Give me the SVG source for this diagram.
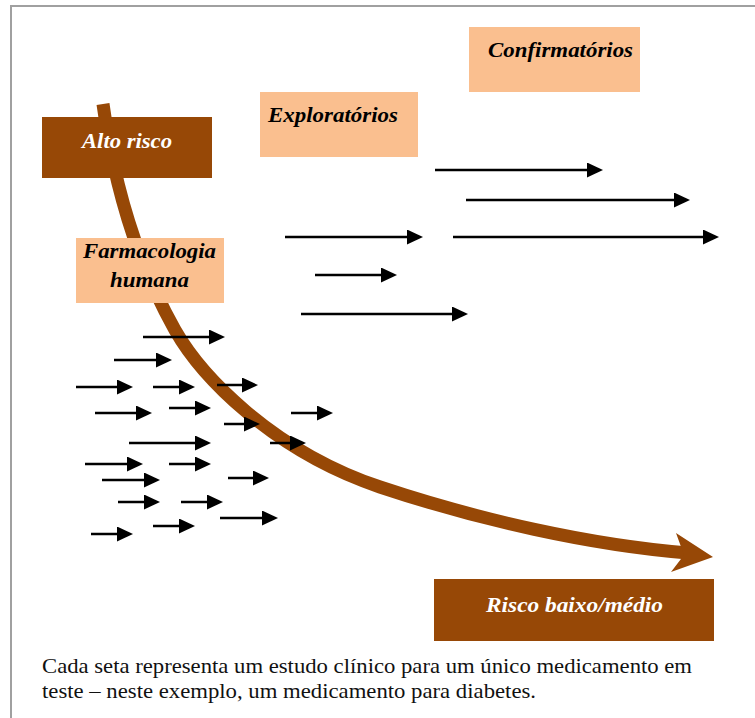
<svg xmlns="http://www.w3.org/2000/svg" width="755" height="718" viewBox="0 0 755 718">
  <style>
    .frame { fill: none; stroke: #A0A0A0; stroke-width: 2; }
    .dark { fill: #974806; }
    .light { fill: #FABF8F; }
    .lbl { font-family: "Liberation Serif", "Times New Roman", serif; font-weight: bold; font-style: italic; font-size: 20px; }
    .lbl-w { fill: #FFFFFF; }
    .lbl-b { fill: #000000; }
    .cap { font-family: "Liberation Serif", "Times New Roman", serif; font-size: 21px; fill: #111111; }
    .study { stroke: #000000; stroke-width: 2.5; fill: none; marker-end: url(#ah); }
    .risk { fill: none; stroke: #974806; stroke-width: 13; }
  </style>
  <defs>
    <marker id="ah" markerUnits="userSpaceOnUse" viewBox="0 0 16 15" markerWidth="16" markerHeight="15" refX="8" refY="7.5" orient="auto">
      <path d="M0,0 L16,7.5 L0,15 Z" fill="#000000"/>
    </marker>
  </defs>
  <rect width="755" height="718" fill="#FFFFFF"/>
  <path class="frame" d="M11,720 L11,6 L757,6"/>

  <g id="connectors">
    <g id="risk-curve">
      <path class="risk" d="M103,104 C112,170 130,250 175,330 C200,374 270,450 380,487 C479,520 590,545 688,553"/>
      <polygon class="dark" points="676,533 713,557 671,572 684,555"/>
    </g>
    <g id="studies">
      <line class="study" x1="435" y1="170" x2="595" y2="170"/>
      <line class="study" x1="466" y1="200" x2="682" y2="200"/>
      <line class="study" x1="285" y1="237" x2="415" y2="237"/>
      <line class="study" x1="453" y1="237" x2="711" y2="237"/>
      <line class="study" x1="315" y1="275" x2="389" y2="275"/>
      <line class="study" x1="301" y1="314" x2="460" y2="314"/>
      <line class="study" x1="143" y1="337" x2="217" y2="337"/>
      <line class="study" x1="114" y1="360" x2="164" y2="360"/>
      <line class="study" x1="76" y1="387" x2="125" y2="387"/>
      <line class="study" x1="153" y1="387" x2="187" y2="387"/>
      <line class="study" x1="217" y1="385" x2="250" y2="385"/>
      <line class="study" x1="95" y1="413" x2="144" y2="413"/>
      <line class="study" x1="169" y1="408" x2="203" y2="408"/>
      <line class="study" x1="291" y1="413" x2="325" y2="413"/>
      <line class="study" x1="224" y1="424" x2="252" y2="424"/>
      <line class="study" x1="129" y1="443" x2="203" y2="443"/>
      <line class="study" x1="270" y1="443" x2="298" y2="443"/>
      <line class="study" x1="85" y1="464" x2="135" y2="464"/>
      <line class="study" x1="169" y1="464" x2="203" y2="464"/>
      <line class="study" x1="102" y1="480" x2="152" y2="480"/>
      <line class="study" x1="228" y1="478" x2="261" y2="478"/>
      <line class="study" x1="118" y1="502" x2="152" y2="502"/>
      <line class="study" x1="181" y1="502" x2="215" y2="502"/>
      <line class="study" x1="220" y1="518" x2="270" y2="518"/>
      <line class="study" x1="153" y1="526" x2="187" y2="526"/>
      <line class="study" x1="91" y1="534" x2="125" y2="534"/>
    </g>
  </g>

  <g id="alto-risco">
    <rect class="dark" x="42" y="117" width="170" height="61"/>
    <text class="lbl lbl-w" x="82" y="148" textLength="90" lengthAdjust="spacingAndGlyphs">Alto risco</text>
  </g>
  <g id="exploratorios">
    <rect class="light" x="260" y="92" width="158" height="65"/>
    <text class="lbl lbl-b" x="268" y="122" textLength="130" lengthAdjust="spacingAndGlyphs">Exploratórios</text>
  </g>
  <g id="confirmatorios">
    <rect class="light" x="469" y="27" width="171" height="65"/>
    <text class="lbl lbl-b" x="488" y="57" textLength="145" lengthAdjust="spacingAndGlyphs">Confirmatórios</text>
  </g>
  <g id="farmacologia-humana">
    <rect class="light" x="76" y="238" width="148" height="65"/>
    <text class="lbl lbl-b" x="83" y="258" textLength="133" lengthAdjust="spacingAndGlyphs">Farmacologia</text>
    <text class="lbl lbl-b" x="110" y="287" textLength="79" lengthAdjust="spacingAndGlyphs">humana</text>
  </g>
  <g id="risco-baixo-medio">
    <rect class="dark" x="434" y="579" width="280" height="62"/>
    <text class="lbl lbl-w" x="486" y="612" textLength="177" lengthAdjust="spacingAndGlyphs">Risco baixo/médio</text>
  </g>
  <g id="caption">
    <text class="cap" x="42" y="673" textLength="650" lengthAdjust="spacingAndGlyphs">Cada seta representa um estudo clínico para um único medicamento em</text>
    <text class="cap" x="42" y="698" textLength="494" lengthAdjust="spacingAndGlyphs">teste – neste exemplo, um medicamento para diabetes.</text>
  </g>
</svg>
